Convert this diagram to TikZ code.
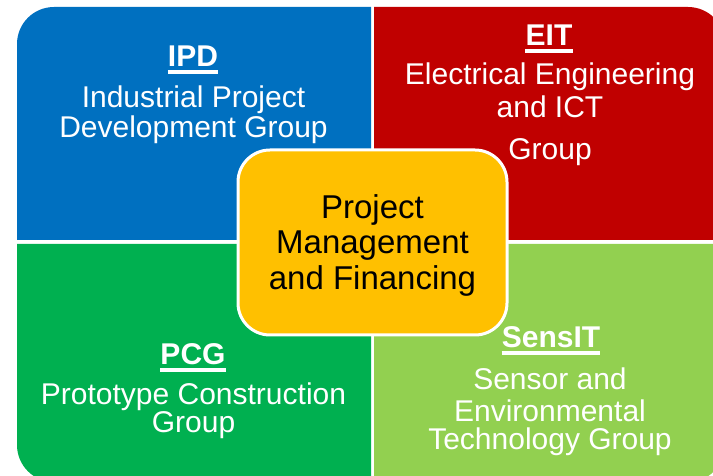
\documentclass[tikz,border=0pt]{standalone}
\usepackage{fontspec}
\setmainfont{Liberation Sans}
\definecolor{qblue}{HTML}{0070C0}
\definecolor{qred}{HTML}{C00000}
\definecolor{qgreen}{HTML}{00B050}
\definecolor{qlgreen}{HTML}{92D050}
\definecolor{qyellow}{HTML}{FFC000}
\tikzset{
  body/.style={text=white, inner sep=0pt, anchor=base, font=\fontsize{30}{30}\selectfont},
  hdr/.style={text=white, inner sep=0pt, anchor=base, font=\fontsize{30}{30}\selectfont\bfseries},
  uline/.style={white, line width=3.2pt},
  centerbox/.style={rectangle, rounded corners=32pt, fill=qyellow, draw=white, line width=3pt,
    minimum width=269pt, minimum height=185pt, align=center, text=black,
    font=\fontsize{33}{35.5}\selectfont}
}
\begin{document}
\begin{tikzpicture}[x=1pt,y=1pt]
\useasboundingbox (0,0) rectangle (713,476);
\clip (0,0) rectangle (713,476);
\fill[white] (0,0) rectangle (713,476);
% quadrants
\fill[qblue] (371,236) -- (17,236) -- (17,432) arc[start angle=180,end angle=90,radius=37pt] -- (371,469) -- cycle;
\fill[qred] (374,236) -- (374,469) -- (688,469) arc[start angle=90,end angle=0,radius=37pt] -- (725,236) -- cycle;
\fill[qgreen] (371,232) -- (17,232) -- (17,31) arc[start angle=180,end angle=270,radius=37pt] -- (371,-6) -- cycle;
\fill[qlgreen] (374,232) -- (725,232) -- (725,31) arc[start angle=0,end angle=-90,radius=37pt] -- (374,-6) -- cycle;
% IPD
\node[hdr] (ipdh) at (193,409) {IPD};
\draw[uline] ([yshift=-5pt]ipdh.base west) -- ([yshift=-5pt]ipdh.base east);
\node[body] (ipd1) at (193.5,368) {Industrial Project};
\node[body] (ipd2) at (193.5,338) {Development Group};
% EIT
\node[hdr] (eith) at (549,430) {EIT};
\draw[uline] ([yshift=-5pt]eith.base west) -- ([yshift=-5pt]eith.base east);
\node[body] (eit1) at (550,391) {Electrical Engineering};
\node[body] (eit2) at (550,358) {and ICT};
\node[body] (eit3) at (550,316) {Group};
% PCG
\node[hdr] (pcgh) at (193,111) {PCG};
\draw[uline] ([yshift=-5pt]pcgh.base west) -- ([yshift=-5pt]pcgh.base east);
\node[body] (pcg1) at (193.5,71) {Prototype Construction};
\node[body] (pcg2) at (193.5,43) {Group};
% SensIT
\node[hdr] (sensh) at (551,128) {SensIT};
\draw[uline] ([yshift=-5pt]sensh.base west) -- ([yshift=-5pt]sensh.base east);
\node[body] (sens1) at (550,86) {Sensor and};
\node[body] (sens2) at (550,54) {Environmental};
\node[body] (sens3) at (550,26) {Technology Group};
% center
\node[centerbox] (pm) at (372.5,233.5) {\rule{0pt}{29pt}Project\\Management\\and Financing};
\end{tikzpicture}
\end{document}
